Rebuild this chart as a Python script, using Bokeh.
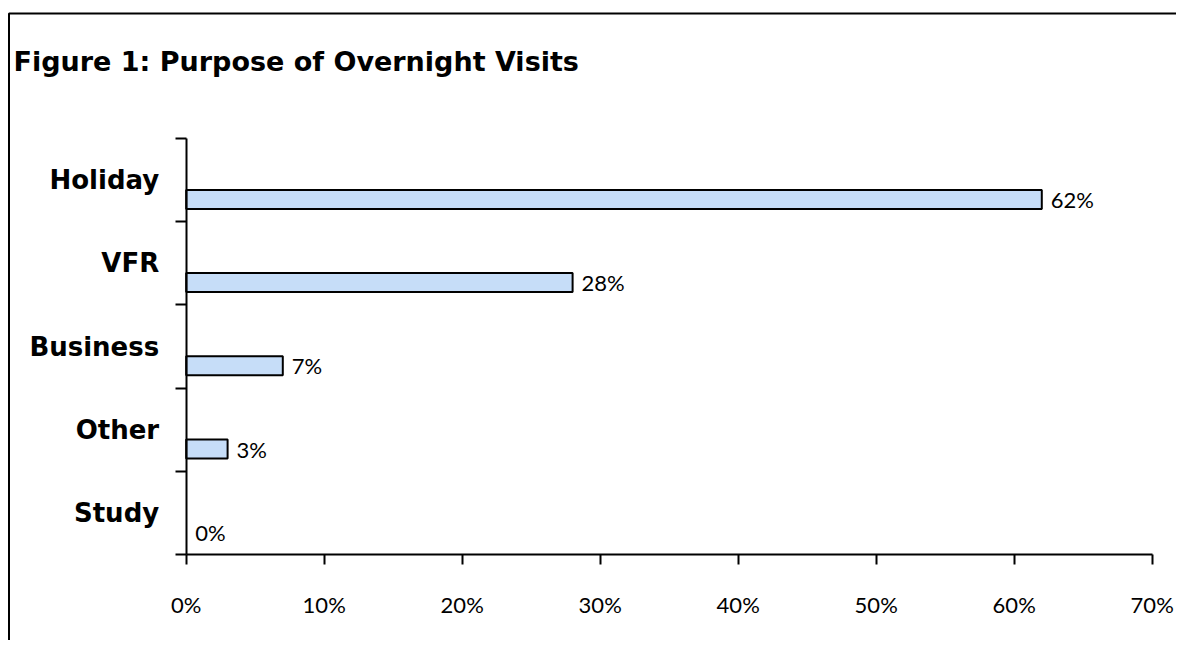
from bokeh.plotting import figure
from bokeh.models import (Range1d, LinearAxis, FixedTicker, PrintfTickFormatter,
                          BoxAnnotation, Label, ColumnDataSource)
from bokeh.embed import file_html
from bokeh.resources import INLINE
from bokeh.core.properties import value

# ---- data ----
categories = ["Study", "Other", "Business", "VFR", "Holiday"]
shares = [0, 3, 7, 28, 62]
value_labels = ["0%", "3%", "7%", "28%", "62%"]
x_ticks = [0, 10, 20, 30, 40, 50, 60, 70]
title_text = "Figure 1: Purpose of Overnight Visits"

# ---- layout (image pixels) ----
W, H = 1176, 640
ORIGIN = 0
x0_px, x70_px = 185.7, 1151.7          # 0% and 70% positions
y_top_px, y_bot_px = 138.0, 554.0      # category band edges
ppx = (x70_px - x0_px) / 70.0
ppy = (y_bot_px - y_top_px) / len(categories)

def dx(px):
    return (px - x0_px) / ppx

def dy(py):
    return (len(categories) - 0.5) + (y_top_px - py) / ppy

x_range = Range1d(dx(ORIGIN), dx(ORIGIN + W))
y_range = Range1d(dy(ORIGIN + H), dy(ORIGIN))

p = figure(width=W, height=H, x_range=x_range, y_range=y_range,
           x_axis_type=None, y_axis_type=None, min_border=0,
           toolbar_location=None, output_backend="svg")
p.outline_line_color = None
p.background_fill_color = "white"
p.border_fill_color = "white"

idx = list(range(len(categories)))
bar_offset = 0.232
src = ColumnDataSource(dict(
    cat=categories,
    y=[i - bar_offset for i in idx],
    share=shares,
    label=value_labels,
    edge=[1.0 if s > 0 else 0.0 for s in shares],
))

p.hbar(y="y", left=0, right="share", height=0.228, source=src,
       fill_color="#c6ddf8", line_color="black", line_alpha="edge", line_width=2)

p.text(x="share", y="y", text="label", source=src, x_offset=9,
       text_baseline="middle", text_align="left",
       text_font=value("Lato"), text_font_size="22px", text_color="black")

# x axis (pinned at bottom of category band)
xaxis = LinearAxis(fixed_location=-0.5, bounds=(0, 70),
                   ticker=FixedTicker(ticks=x_ticks),
                   formatter=PrintfTickFormatter(format="%d%%"))
xaxis.axis_line_color = "black"
xaxis.axis_line_width = 2
xaxis.major_tick_line_width = 2
xaxis.major_tick_out = 10
xaxis.major_tick_in = 0
xaxis.minor_tick_line_color = None
xaxis.major_label_text_font = "Lato"
xaxis.major_label_text_font_size = "22px"
xaxis.major_label_text_color = "black"
xaxis.major_label_standoff = 26
p.add_layout(xaxis, "below")

# y axis (pinned at x = 0), labels at centres, ticks at band edges
yaxis = LinearAxis(fixed_location=0, bounds=(-0.5, len(categories) - 0.5),
                   ticker=FixedTicker(ticks=idx,
                                      minor_ticks=[i - 0.5 for i in range(len(categories) + 1)]))
yaxis.major_label_overrides = {i: c for i, c in zip(idx, categories)}
yaxis.axis_line_color = "black"
yaxis.axis_line_width = 2
yaxis.major_tick_line_color = None
yaxis.major_tick_out = 0
yaxis.major_tick_in = 0
yaxis.minor_tick_line_color = "black"
yaxis.minor_tick_line_width = 2
yaxis.minor_tick_out = 11
yaxis.minor_tick_in = 0
yaxis.major_label_text_font = "DejaVu Sans"
yaxis.major_label_text_font_style = "bold"
yaxis.major_label_text_font_size = "26px"
yaxis.major_label_text_color = "black"
yaxis.major_label_standoff = 16
p.add_layout(yaxis, "left")

# frame border (top and left edges visible; right/bottom fall outside the canvas)
p.add_layout(BoxAnnotation(left=dx(8.5), top=dy(13), right=dx(W + 40), bottom=dy(H + 40),
                           fill_color=None, fill_alpha=0, line_color="black",
                           line_alpha=1.0, line_width=2))

# title
p.add_layout(Label(x=dx(13), y=dy(61), text=title_text, text_baseline="middle",
                   text_align="left", text_font="DejaVu Sans", text_font_style="bold",
                   text_font_size="27px", text_color="black"))

open("out.html", "w").write(file_html(p, INLINE))
